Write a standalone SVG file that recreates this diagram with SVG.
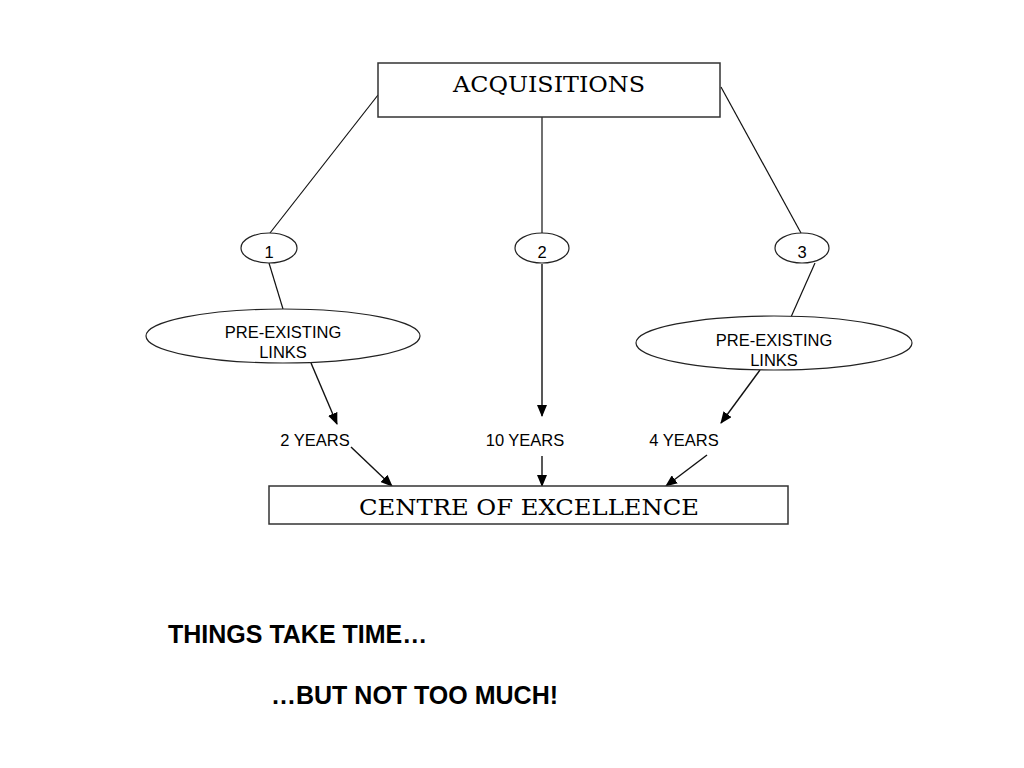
<svg xmlns="http://www.w3.org/2000/svg" width="1024" height="768" viewBox="0 0 1024 768">
<style>
.box{fill:#fff;stroke:#333;stroke-width:1.5}
.ell{fill:#fff;stroke:#222;stroke-width:1.2}
.ln{stroke:#111;stroke-width:1.2;fill:none}
.arr{stroke:#111;stroke-width:1.4;fill:none;marker-end:url(#ah)}
.serif{font-family:"DejaVu Serif","Liberation Serif",serif;font-size:23px;fill:#000}
.sans{font-family:"Liberation Sans",Arial,sans-serif;font-size:16.5px;fill:#000}
.bold{font-family:"Liberation Sans",Arial,sans-serif;font-size:25px;font-weight:bold;fill:#000}
</style>
<defs>
<marker id="ah" markerWidth="12" markerHeight="10" refX="11" refY="5" orient="auto" markerUnits="userSpaceOnUse">
<path d="M0,0 L12,5 L0,10 z" fill="#000"/>
</marker>
</defs>
<rect width="1024" height="768" fill="#fff"/>
<g id="connectors">
<line class="ln" x1="378" y1="95" x2="270" y2="233"/>
<line class="ln" x1="542" y1="117" x2="542" y2="233"/>
<line class="ln" x1="721" y1="87" x2="801" y2="233"/>
<line class="ln" x1="269" y1="263" x2="283" y2="309"/>
<line class="ln" x1="815" y1="263" x2="791" y2="317"/>
<line class="arr" x1="311" y1="363" x2="337" y2="424"/>
<line class="arr" x1="542" y1="264" x2="542" y2="416"/>
<line class="arr" x1="760" y1="370" x2="721" y2="423"/>
<line class="arr" x1="351" y1="447" x2="392" y2="486"/>
<line class="arr" x1="542" y1="456" x2="542" y2="486"/>
<line class="arr" x1="707" y1="455" x2="666" y2="486"/>
</g>
<g id="acquisitions">
<rect class="box" x="378" y="63" width="342" height="54"/>
<text class="serif" x="549" y="92" text-anchor="middle" textLength="192" lengthAdjust="spacingAndGlyphs">ACQUISITIONS</text>
</g>
<g id="n1">
<ellipse class="ell" cx="269" cy="248" rx="28" ry="15"/>
<text class="sans" x="269" y="258" text-anchor="middle">1</text>
</g>
<g id="n2">
<ellipse class="ell" cx="542" cy="248" rx="27" ry="15"/>
<text class="sans" x="542" y="258" text-anchor="middle">2</text>
</g>
<g id="n3">
<ellipse class="ell" cx="802" cy="248" rx="27" ry="15"/>
<text class="sans" x="802" y="258" text-anchor="middle">3</text>
</g>
<g id="links1">
<ellipse class="ell" cx="283" cy="336" rx="137" ry="27"/>
<text class="sans" x="283" y="338" text-anchor="middle">PRE-EXISTING</text>
<text class="sans" x="283" y="358" text-anchor="middle">LINKS</text>
</g>
<g id="links3">
<ellipse class="ell" cx="774" cy="343" rx="138" ry="27"/>
<text class="sans" x="774" y="346" text-anchor="middle">PRE-EXISTING</text>
<text class="sans" x="774" y="366" text-anchor="middle">LINKS</text>
</g>
<g id="y2"><text class="sans" x="315" y="446" text-anchor="middle">2 YEARS</text></g>
<g id="y10"><text class="sans" x="525" y="446" text-anchor="middle">10 YEARS</text></g>
<g id="y4"><text class="sans" x="684" y="446" text-anchor="middle">4 YEARS</text></g>
<g id="centre">
<rect class="box" x="269" y="486" width="519" height="38"/>
<text class="serif" x="529" y="515" text-anchor="middle" textLength="340" lengthAdjust="spacingAndGlyphs">CENTRE OF EXCELLENCE</text>
</g>
<g id="caption">
<text class="bold" x="168" y="643">THINGS TAKE TIME…</text>
<text class="bold" x="271" y="704">…BUT NOT TOO MUCH!</text>
</g>
</svg>
